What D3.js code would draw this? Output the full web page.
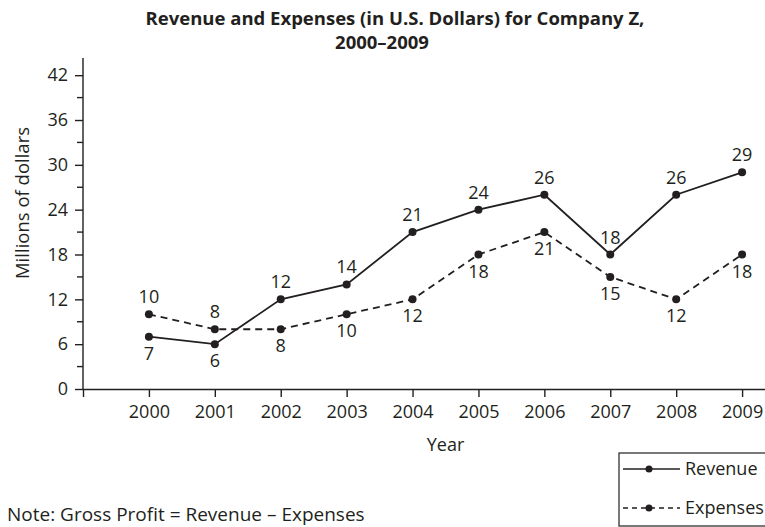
<html>
<head>
    <meta charset="utf-8">
    <style>
        body { margin: 0; background: #fff; }
        text { font-family: "Open Sans", sans-serif; fill: #231f20; }
        .axis path, .axis line { stroke: #231f20; stroke-width: 1.4; }
    </style>
    <script src="https://d3js.org/d3.v7.min.js"></script>
</head>
<body>
<div id="chart"></div>
<script>

    // data
    var years = [2000, 2001, 2002, 2003, 2004, 2005, 2006, 2007, 2008, 2009];
    var revenue = [7, 6, 12, 14, 21, 24, 26, 18, 26, 29];
    var expenses = [10, 8, 8, 10, 12, 18, 21, 15, 12, 18];
    // label above (-1) or below (1) the point
    var revenuePos = [1, 1, -1, -1, -1, -1, -1, -1, -1, -1];
    var expensesPos = [-1, -1, 1, 1, 1, 1, 1, 1, 1, 1];
    var yTicks = [0, 6, 12, 18, 24, 30, 36, 42];
    var yMinorTicks = [3, 9, 15, 21, 27, 33, 39];

    var width = 765, height = 527;
    var ink = "#231f20";

    var svg = d3.select("#chart").append("svg")
        .attr("width", width)
        .attr("height", height);

    var x = d3.scaleLinear().domain([1999, 2010]).range([83, 808]);
    var y = d3.scaleLinear().domain([0, 44.3]).range([389, 58]);

    // title
    svg.append("text")
        .attr("x", 395).attr("y", 25)
        .attr("text-anchor", "middle")
        .attr("font-size", "18.5px").attr("font-weight", "bold")
        .text("Revenue and Expenses (in U.S. Dollars) for Company Z,");
    svg.append("text")
        .attr("x", 382).attr("y", 49)
        .attr("text-anchor", "middle")
        .attr("font-size", "18.5px").attr("font-weight", "bold")
        .text("2000\u20132009");

    // y axis
    var yAxis = svg.append("g")
        .attr("class", "axis")
        .attr("transform", "translate(" + x(1999) + ",0)")
        .call(d3.axisLeft(y).tickValues(yTicks).tickSize(8).tickPadding(7).tickSizeOuter(0));
    yAxis.selectAll("text").attr("font-size", "18px").attr("fill", ink);
    yAxis.select(".domain").attr("d", "M0," + y(0) + "V" + y(44.3));

    svg.append("g")
        .attr("class", "axis")
        .attr("transform", "translate(" + x(1999) + ",0)")
        .selectAll("line")
        .data(yMinorTicks).enter()
        .append("line")
        .attr("x1", -6).attr("x2", 0)
        .attr("y1", function (d) { return y(d); })
        .attr("y2", function (d) { return y(d); });

    // x axis
    var xAxis = svg.append("g")
        .attr("class", "axis")
        .attr("transform", "translate(0," + y(0) + ")")
        .call(d3.axisBottom(x).tickValues([1999].concat(years)).tickSize(8).tickPadding(8).tickSizeOuter(0)
            .tickFormat(function (d) { return d === 1999 ? "" : d; }));
    xAxis.selectAll("text").attr("font-size", "18px").attr("fill", ink);

    svg.append("text")
        .attr("x", x(2004.5)).attr("y", 451)
        .attr("text-anchor", "middle")
        .attr("font-size", "18px")
        .text("Year");

    svg.append("text")
        .attr("transform", "translate(29,203) rotate(-90)")
        .attr("text-anchor", "middle")
        .attr("font-size", "18.5px")
        .text("Millions of dollars");

    // series
    function drawSeries(values, pos, dash) {
        var pts = years.map(function (yr, i) { return [yr, values[i], pos[i]]; });
        var line = d3.line()
            .x(function (d) { return x(d[0]); })
            .y(function (d) { return y(d[1]); });

        svg.append("path")
            .datum(pts)
            .attr("fill", "none")
            .attr("stroke", ink)
            .attr("stroke-width", 1.8)
            .attr("stroke-dasharray", dash)
            .attr("d", line);

        svg.append("g").selectAll("circle")
            .data(pts).enter()
            .append("circle")
            .attr("cx", function (d) { return x(d[0]); })
            .attr("cy", function (d) { return y(d[1]); })
            .attr("r", 4)
            .attr("fill", ink);

        svg.append("g").selectAll("text")
            .data(pts).enter()
            .append("text")
            .attr("x", function (d) { return x(d[0]); })
            .attr("y", function (d) { return y(d[1]) + d[2] * 17 + 6; })
            .attr("text-anchor", "middle")
            .attr("font-size", "18px")
            .text(function (d) { return d[1]; });
    }

    drawSeries(revenue, revenuePos, null);
    drawSeries(expenses, expensesPos, "7,5");

    // legend
    var legend = svg.append("g");
    legend.append("rect")
        .attr("x", 619).attr("y", 453)
        .attr("width", 160).attr("height", 73)
        .attr("fill", "none").attr("stroke", ink).attr("stroke-width", 1.2);

    var legendItems = [{name: "Revenue", dash: null, y: 469}, {name: "Expenses", dash: "5,4", y: 508}];
    legendItems.forEach(function (d) {
        legend.append("line")
            .attr("x1", 623).attr("x2", 680)
            .attr("y1", d.y).attr("y2", d.y)
            .attr("stroke", ink).attr("stroke-width", 1.6)
            .attr("stroke-dasharray", d.dash);
        legend.append("circle")
            .attr("cx", 649).attr("cy", d.y).attr("r", 3.5).attr("fill", ink);
        legend.append("text")
            .attr("x", 685).attr("y", d.y + 6)
            .attr("font-size", "18px")
            .text(d.name);
    });

    svg.append("text")
        .attr("x", 7).attr("y", 521)
        .attr("font-size", "19px")
        .text("Note: Gross Profit = Revenue \u2013 Expenses");

</script>
</body>
</html>
